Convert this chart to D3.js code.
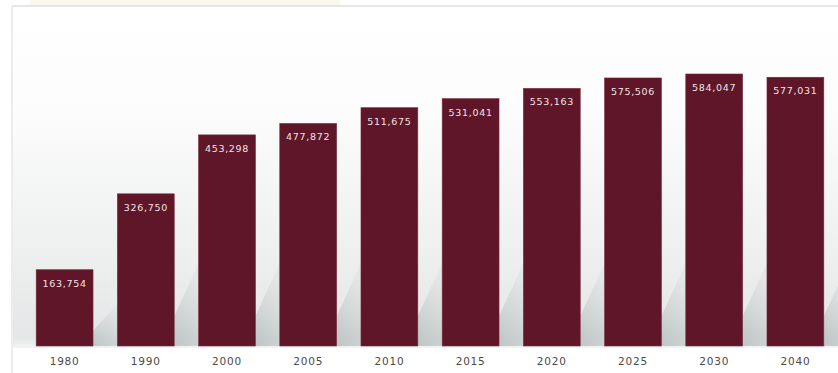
<!DOCTYPE html>
<html><head><meta charset="utf-8">
<script src="https://cdn.jsdelivr.net/npm/d3@7"></script>
<style>html,body{margin:0;padding:0;background:#fff;overflow:hidden}</style>
</head><body>
<svg id="c" width="838" height="373"></svg>
<script>
const years = ["1980","1990","2000","2005","2010","2015","2020","2025","2030","2040"];
const values = [163754,326750,453298,477872,511675,531041,553163,575506,584047,577031];

const W = 838, H = 373;
const svg = d3.select("#c");
const defs = svg.append("defs");
const bg = defs.append("linearGradient").attr("id","bg").attr("x1",0).attr("y1",0).attr("x2",0).attr("y2",1);
bg.append("stop").attr("offset","0").attr("stop-color","#ffffff");
bg.append("stop").attr("offset","0.3").attr("stop-color","#fcfcfc");
bg.append("stop").attr("offset","0.7").attr("stop-color","#eff0f0");
bg.append("stop").attr("offset","0.97").attr("stop-color","#e4e7e7");
bg.append("stop").attr("offset","1").attr("stop-color","#f3f4f4");
const sh = defs.append("linearGradient").attr("id","sh").attr("gradientUnits","objectBoundingBox")
  .attr("x1",0).attr("y1",1).attr("x2",0.3).attr("y2",0);
sh.append("stop").attr("offset","0").attr("stop-color","#b3bbba").attr("stop-opacity",0.8);
sh.append("stop").attr("offset","1").attr("stop-color","#cbd2d1").attr("stop-opacity",0.25);

const x = d3.scaleBand().domain(years).range([24, 836]).paddingInner(0.3).paddingOuter(0.15);
const y = d3.scaleLinear().domain([0, 584047]).range([346, 74]);

// frame & background
svg.append("rect").attr("x",30).attr("y",0).attr("width",310).attr("height",5).attr("fill","#faf7ef");
svg.append("rect").attr("x",13).attr("y",7).attr("width",W-13).attr("height",341).attr("fill","url(#bg)");
svg.append("line").attr("x1",12).attr("x2",W).attr("y1",6).attr("y2",6).attr("stroke","#dedede").attr("stroke-width",1.5);
svg.append("line").attr("x1",12).attr("x2",12).attr("y1",6).attr("y2",H).attr("stroke","#e6e6e6").attr("stroke-width",1.5);

// shadows cast to the right of each bar
const gap = x.step() - x.bandwidth();
svg.append("g").selectAll("path").data(years).join("path")
  .attr("d", (d,i) => {
    const x0 = x(d) + x.bandwidth(), b = y(0);
    const h = Math.min(y(0) - y(values[i]), 150);
    const x1 = x0 + gap;
    return `M${x0},${b} L${x1},${b} L${x1},${b - h*0.55} L${x0},${b - h*0.2} Z`;
  })
  .attr("fill","url(#sh)");

// bars
svg.append("g").selectAll("rect").data(years).join("rect")
  .attr("x", d => x(d)).attr("width", x.bandwidth())
  .attr("y", (d,i) => y(values[i])).attr("height", (d,i) => y(0) - y(values[i]))
  .attr("fill","#5e1628").attr("stroke","#7a2a3c").attr("stroke-width",0.6);

// value labels
const fmt = d3.format(",");
svg.append("g").selectAll("text").data(years).join("text")
  .attr("x", d => x(d) + x.bandwidth()/2)
  .attr("y", (d,i) => y(values[i]) + 17)
  .attr("text-anchor","middle")
  .attr("font-family","DejaVu Sans, sans-serif").attr("font-size","9.5px")
  .attr("letter-spacing","0.7px")
  .attr("fill","#f3e3e7")
  .text((d,i) => fmt(values[i]));

// x axis
const ax = svg.append("g").attr("transform","translate(0,346)")
  .call(d3.axisBottom(x).tickSize(0).tickPadding(12));
ax.select(".domain").remove();
ax.selectAll("text").attr("font-family","DejaVu Sans, sans-serif").attr("font-size","10.5px")
  .attr("letter-spacing","0.8px").attr("fill","#4a4a4a");
</script>
</body></html>
